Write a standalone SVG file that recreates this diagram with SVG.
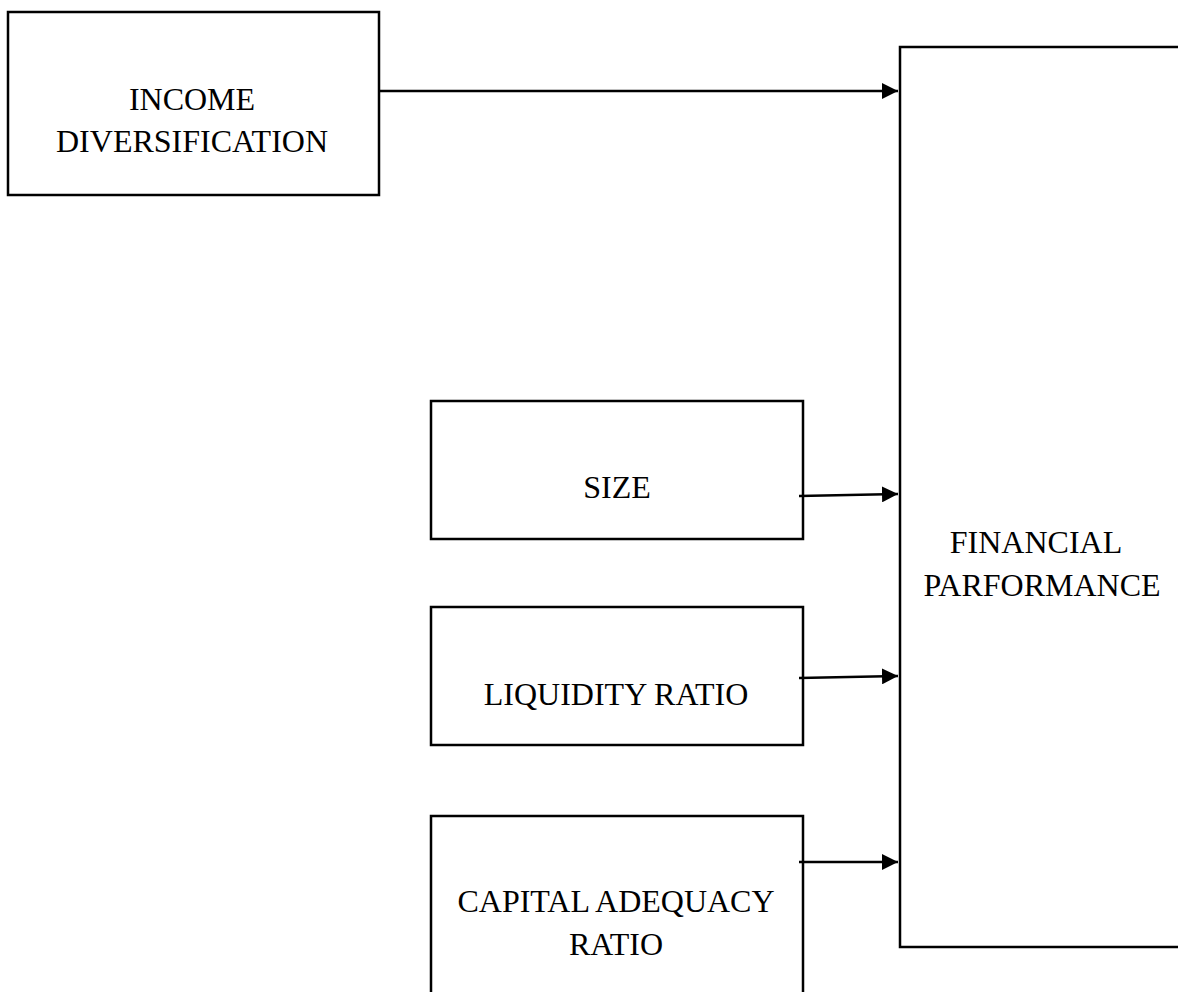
<svg xmlns="http://www.w3.org/2000/svg" width="1178" height="992" viewBox="0 0 1178 992">
<style>
.box{fill:#fff;stroke:#000;stroke-width:2.5}
.lbl{font-family:"Liberation Serif","Times New Roman",serif;font-size:32px;fill:#000;text-anchor:middle}
.conn{stroke:#000;stroke-width:2.5;fill:none;marker-end:url(#ah)}
</style>
<defs>
<marker id="ah" markerUnits="userSpaceOnUse" markerWidth="16" markerHeight="16" refX="16" refY="8" orient="auto">
<path d="M0,0 L16,8 L0,16 Z" fill="#000"/>
</marker>
</defs>
<rect width="1178" height="992" fill="#fff"/>
<g id="income">
<rect class="box" x="8" y="12" width="371" height="183"/>
<text class="lbl" x="192" y="110">INCOME</text>
<text class="lbl" x="192" y="152">DIVERSIFICATION</text>
</g>
<g id="financial">
<rect class="box" x="900" y="47" width="300" height="900"/>
<text class="lbl" x="1036" y="553">FINANCIAL</text>
<text class="lbl" x="1042" y="596">PARFORMANCE</text>
</g>
<g id="size">
<rect class="box" x="431" y="401" width="372" height="138"/>
<text class="lbl" x="617" y="498">SIZE</text>
</g>
<g id="liquidity">
<rect class="box" x="431" y="607" width="372" height="138"/>
<text class="lbl" x="616" y="705">LIQUIDITY RATIO</text>
</g>
<g id="capital">
<rect class="box" x="431" y="816" width="372" height="200"/>
<text class="lbl" x="616" y="912">CAPITAL ADEQUACY</text>
<text class="lbl" x="616" y="955">RATIO</text>
</g>
<g id="connectors">
<line class="conn" x1="379" y1="91" x2="898" y2="91"/>
<line class="conn" x1="799" y1="496" x2="898" y2="494"/>
<line class="conn" x1="799" y1="678" x2="898" y2="676"/>
<line class="conn" x1="799" y1="862" x2="898" y2="862"/>
</g>
</svg>
